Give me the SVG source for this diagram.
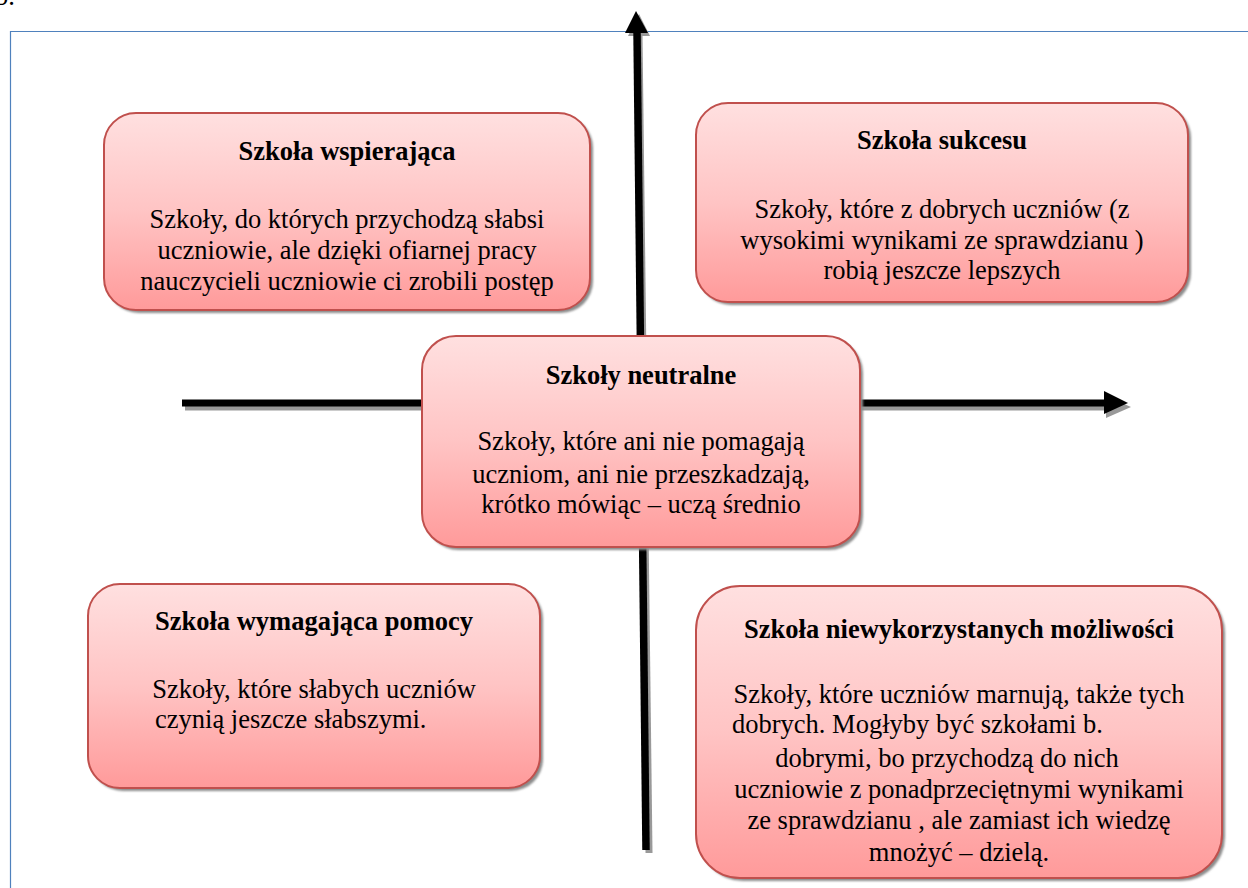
<svg xmlns="http://www.w3.org/2000/svg" width="1248" height="888" viewBox="0 0 1248 888">
<defs>
<linearGradient id="g" x1="0" y1="0" x2="0" y2="1">
<stop offset="0" stop-color="#ffe0e0"/>
<stop offset="0.5" stop-color="#ffc4c4"/>
<stop offset="1" stop-color="#ff9a9a"/>
</linearGradient>
<filter id="sh" x="-5%" y="-5%" width="110%" height="110%">
<feGaussianBlur stdDeviation="1"/>
</filter>
</defs>
<style>
.box{fill:url(#g);stroke:#c0504d;stroke-width:2}
.shadow{fill:#8c8c8c;filter:url(#sh)}
.t{font-weight:bold;text-anchor:middle;font-family:"Liberation Serif",serif;font-size:26.5px}
.c{text-anchor:middle;font-family:"Liberation Serif",serif;font-size:26.5px}
.l{font-family:"Liberation Serif",serif;font-size:26.5px}
</style>
<rect width="1248" height="888" fill="#fff"/>
<text class="l" x="-5" y="5">b.</text>
<g id="frame"><path d="M10.5,888 V31.5 H1248" fill="none" stroke="#4f81bd" stroke-width="1.2"/></g>
<g id="connectors">
<path d="M185,407 H1108" stroke="#999" stroke-width="7"/>
<polygon points="1106,396 1131,407 1106,418" fill="#999"/>
<path d="M649,853 L639,34" stroke="#999" stroke-width="7"/>
<polygon points="628,36 639,14 650,36" fill="#999"/>
<path d="M182,403 H1105" stroke="#000" stroke-width="7"/>
<polygon points="1104,391 1128,403 1104,414" fill="#000"/>
<path d="M646,850 L637,31" stroke="#000" stroke-width="7.5"/>
<polygon points="625,33 636,11 648,33" fill="#000"/>
</g>
<g id="n1">
<rect class="shadow" x="107" y="116" width="486" height="197" rx="32"/>
<rect class="box" x="104" y="113" width="486" height="197" rx="32"/>
<text class="t" x="347" y="160">Szkoła wspierająca</text>
<text class="c" x="347" y="228">Szkoły, do których przychodzą słabsi</text>
<text class="c" x="347" y="259">uczniowie, ale dzięki ofiarnej pracy</text>
<text class="c" x="347" y="290">nauczycieli uczniowie ci zrobili postęp</text>
</g>
<g id="n2">
<rect class="shadow" x="699" y="106" width="492" height="199" rx="32"/>
<rect class="box" x="696" y="103" width="492" height="199" rx="32"/>
<text class="t" x="942" y="149">Szkoła sukcesu</text>
<text class="c" x="942" y="218">Szkoły, które z dobrych uczniów (z</text>
<text class="c" x="942" y="249">wysokimi wynikami ze sprawdzianu )</text>
<text class="c" x="942" y="279">robią jeszcze lepszych</text>
</g>
<g id="n3">
<rect class="shadow" x="425" y="339" width="438" height="211" rx="34"/>
<rect class="box" x="422" y="336" width="438" height="211" rx="34"/>
<text class="t" x="641" y="384">Szkoły neutralne</text>
<text class="c" x="641" y="450">Szkoły, które ani nie pomagają</text>
<text class="c" x="641" y="483">uczniom, ani nie przeszkadzają,</text>
<text class="c" x="641" y="513">krótko mówiąc – uczą średnio</text>
</g>
<g id="n4">
<rect class="shadow" x="91" y="587" width="452" height="204" rx="32"/>
<rect class="box" x="88" y="584" width="452" height="204" rx="32"/>
<text class="t" x="314" y="630">Szkoła wymagająca pomocy</text>
<text class="c" x="314" y="698">Szkoły, które słabych uczniów</text>
<text class="l" x="155" y="728">czynią jeszcze słabszymi.</text>
</g>
<g id="n5">
<rect class="shadow" x="699" y="589" width="526" height="292" rx="44"/>
<rect class="box" x="696" y="586" width="526" height="292" rx="44"/>
<text class="t" x="959" y="638">Szkoła niewykorzystanych możliwości</text>
<text class="c" x="959" y="703">Szkoły, które uczniów marnują, także tych</text>
<text class="l" x="732" y="733">dobrych. Mogłyby być szkołami b.</text>
<text class="c" x="947" y="767">dobrymi, bo przychodzą do nich</text>
<text class="c" x="959" y="798">uczniowie z ponadprzeciętnymi wynikami</text>
<text class="c" x="959" y="829">ze sprawdzianu , ale zamiast ich wiedzę</text>
<text class="c" x="959" y="861">mnożyć – dzielą.</text>
</g>
</svg>
